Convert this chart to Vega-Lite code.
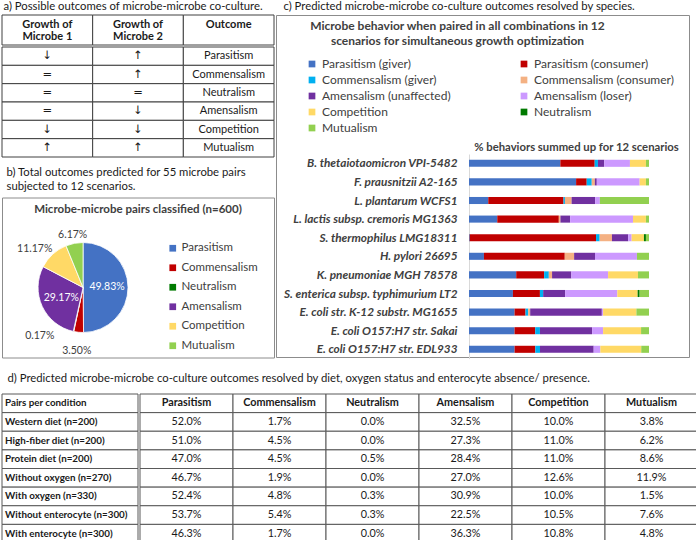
{
  "$schema": "https://vega.github.io/schema/vega-lite/v6.json",
  "padding": {"left": 1, "top": 1, "right": 0, "bottom": 0},
  "background": "white",
  "config": {
    "font": "Lato",
    "view": {"stroke": null},
    "title": {"fontSize": 11.3, "fontWeight": "normal", "anchor": "start", "color": "#1a1a1a", "offset": 2, "font": "Lato"},
    "text": {"font": "Lato"},
    "legend": {"labelFont": "Lato"}
  },
  "datasets": {
    "outcomes": [
      {"Growth of Microbe 1": "↓", "Growth of Microbe 2": "↑", "Outcome": "Parasitism"},
      {"Growth of Microbe 1": "=", "Growth of Microbe 2": "↑", "Outcome": "Commensalism"},
      {"Growth of Microbe 1": "=", "Growth of Microbe 2": "=", "Outcome": "Neutralism"},
      {"Growth of Microbe 1": "=", "Growth of Microbe 2": "↓", "Outcome": "Amensalism"},
      {"Growth of Microbe 1": "↓", "Growth of Microbe 2": "↓", "Outcome": "Competition"},
      {"Growth of Microbe 1": "↑", "Growth of Microbe 2": "↑", "Outcome": "Mutualism"}
    ],
    "pie": [
      {"outcome": "Parasitism", "share": 0.4983, "rank": 1},
      {"outcome": "Commensalism", "share": 0.035, "rank": 2},
      {"outcome": "Neutralism", "share": 0.0017, "rank": 3},
      {"outcome": "Amensalism", "share": 0.2917, "rank": 4},
      {"outcome": "Competition", "share": 0.1117, "rank": 5},
      {"outcome": "Mutualism", "share": 0.0617, "rank": 6}
    ],
    "behaviors": [
      {"behavior": "Parasitism (giver)", "rank": 1},
      {"behavior": "Parasitism (consumer)", "rank": 2},
      {"behavior": "Commensalism (giver)", "rank": 3},
      {"behavior": "Commensalism (consumer)", "rank": 4},
      {"behavior": "Amensalism (unaffected)", "rank": 5},
      {"behavior": "Amensalism (loser)", "rank": 6},
      {"behavior": "Competition", "rank": 7},
      {"behavior": "Neutralism", "rank": 8},
      {"behavior": "Mutualism", "rank": 9}
    ],
    "bars": [
      {"species": "B. thetaiotaomicron VPI-5482", "behavior": "Parasitism (giver)", "pct": 50.8},
      {"species": "B. thetaiotaomicron VPI-5482", "behavior": "Parasitism (consumer)", "pct": 19.1},
      {"species": "B. thetaiotaomicron VPI-5482", "behavior": "Commensalism (giver)", "pct": 1.8},
      {"species": "B. thetaiotaomicron VPI-5482", "behavior": "Amensalism (unaffected)", "pct": 3.5},
      {"species": "B. thetaiotaomicron VPI-5482", "behavior": "Amensalism (loser)", "pct": 14.3},
      {"species": "B. thetaiotaomicron VPI-5482", "behavior": "Competition", "pct": 8.9},
      {"species": "B. thetaiotaomicron VPI-5482", "behavior": "Mutualism", "pct": 1.7},
      {"species": "F. prausnitzii A2-165", "behavior": "Parasitism (giver)", "pct": 59.5},
      {"species": "F. prausnitzii A2-165", "behavior": "Parasitism (consumer)", "pct": 5.9},
      {"species": "F. prausnitzii A2-165", "behavior": "Commensalism (giver)", "pct": 2.8},
      {"species": "F. prausnitzii A2-165", "behavior": "Commensalism (consumer)", "pct": 1.7},
      {"species": "F. prausnitzii A2-165", "behavior": "Amensalism (unaffected)", "pct": 1.1},
      {"species": "F. prausnitzii A2-165", "behavior": "Amensalism (loser)", "pct": 23.8},
      {"species": "F. prausnitzii A2-165", "behavior": "Competition", "pct": 3.5},
      {"species": "F. prausnitzii A2-165", "behavior": "Mutualism", "pct": 1.7},
      {"species": "L. plantarum WCFS1", "behavior": "Parasitism (giver)", "pct": 10.7},
      {"species": "L. plantarum WCFS1", "behavior": "Parasitism (consumer)", "pct": 41.8},
      {"species": "L. plantarum WCFS1", "behavior": "Commensalism (giver)", "pct": 0.8},
      {"species": "L. plantarum WCFS1", "behavior": "Commensalism (consumer)", "pct": 3.7},
      {"species": "L. plantarum WCFS1", "behavior": "Amensalism (unaffected)", "pct": 13.1},
      {"species": "L. plantarum WCFS1", "behavior": "Amensalism (loser)", "pct": 2.6},
      {"species": "L. plantarum WCFS1", "behavior": "Mutualism", "pct": 27.3},
      {"species": "L. lactis subsp. cremoris MG1363", "behavior": "Parasitism (giver)", "pct": 15.7},
      {"species": "L. lactis subsp. cremoris MG1363", "behavior": "Parasitism (consumer)", "pct": 34.2},
      {"species": "L. lactis subsp. cremoris MG1363", "behavior": "Commensalism (consumer)", "pct": 0.9},
      {"species": "L. lactis subsp. cremoris MG1363", "behavior": "Amensalism (unaffected)", "pct": 5.4},
      {"species": "L. lactis subsp. cremoris MG1363", "behavior": "Amensalism (loser)", "pct": 34.9},
      {"species": "L. lactis subsp. cremoris MG1363", "behavior": "Competition", "pct": 7.2},
      {"species": "L. lactis subsp. cremoris MG1363", "behavior": "Mutualism", "pct": 1.7},
      {"species": "S. thermophilus LMG18311", "behavior": "Parasitism (giver)", "pct": 0.4},
      {"species": "S. thermophilus LMG18311", "behavior": "Parasitism (consumer)", "pct": 69.9},
      {"species": "S. thermophilus LMG18311", "behavior": "Commensalism (giver)", "pct": 2.0},
      {"species": "S. thermophilus LMG18311", "behavior": "Commensalism (consumer)", "pct": 6.8},
      {"species": "S. thermophilus LMG18311", "behavior": "Amensalism (unaffected)", "pct": 9.0},
      {"species": "S. thermophilus LMG18311", "behavior": "Amensalism (loser)", "pct": 1.9},
      {"species": "S. thermophilus LMG18311", "behavior": "Competition", "pct": 6.8},
      {"species": "S. thermophilus LMG18311", "behavior": "Neutralism", "pct": 1.1},
      {"species": "S. thermophilus LMG18311", "behavior": "Mutualism", "pct": 1.7},
      {"species": "H. pylori 26695", "behavior": "Parasitism (giver)", "pct": 8.3},
      {"species": "H. pylori 26695", "behavior": "Parasitism (consumer)", "pct": 44.9},
      {"species": "H. pylori 26695", "behavior": "Commensalism (consumer)", "pct": 5.2},
      {"species": "H. pylori 26695", "behavior": "Amensalism (unaffected)", "pct": 11.6},
      {"species": "H. pylori 26695", "behavior": "Amensalism (loser)", "pct": 23.3},
      {"species": "H. pylori 26695", "behavior": "Mutualism", "pct": 6.7},
      {"species": "K. pneumoniae MGH 78578", "behavior": "Parasitism (giver)", "pct": 26.2},
      {"species": "K. pneumoniae MGH 78578", "behavior": "Parasitism (consumer)", "pct": 15.5},
      {"species": "K. pneumoniae MGH 78578", "behavior": "Commensalism (giver)", "pct": 2.6},
      {"species": "K. pneumoniae MGH 78578", "behavior": "Commensalism (consumer)", "pct": 1.8},
      {"species": "K. pneumoniae MGH 78578", "behavior": "Amensalism (unaffected)", "pct": 10.7},
      {"species": "K. pneumoniae MGH 78578", "behavior": "Amensalism (loser)", "pct": 20.4},
      {"species": "K. pneumoniae MGH 78578", "behavior": "Competition", "pct": 16.6},
      {"species": "K. pneumoniae MGH 78578", "behavior": "Mutualism", "pct": 6.1},
      {"species": "S. enterica subsp. typhimurium LT2", "behavior": "Parasitism (giver)", "pct": 24.4},
      {"species": "S. enterica subsp. typhimurium LT2", "behavior": "Parasitism (consumer)", "pct": 15.0},
      {"species": "S. enterica subsp. typhimurium LT2", "behavior": "Commensalism (giver)", "pct": 1.8},
      {"species": "S. enterica subsp. typhimurium LT2", "behavior": "Amensalism (unaffected)", "pct": 12.2},
      {"species": "S. enterica subsp. typhimurium LT2", "behavior": "Amensalism (loser)", "pct": 29.0},
      {"species": "S. enterica subsp. typhimurium LT2", "behavior": "Competition", "pct": 11.3},
      {"species": "S. enterica subsp. typhimurium LT2", "behavior": "Neutralism", "pct": 1.1},
      {"species": "S. enterica subsp. typhimurium LT2", "behavior": "Mutualism", "pct": 5.2},
      {"species": "E. coli str. K-12 substr. MG1655", "behavior": "Parasitism (giver)", "pct": 25.3},
      {"species": "E. coli str. K-12 substr. MG1655", "behavior": "Parasitism (consumer)", "pct": 6.1},
      {"species": "E. coli str. K-12 substr. MG1655", "behavior": "Commensalism (giver)", "pct": 1.5},
      {"species": "E. coli str. K-12 substr. MG1655", "behavior": "Commensalism (consumer)", "pct": 1.1},
      {"species": "E. coli str. K-12 substr. MG1655", "behavior": "Amensalism (unaffected)", "pct": 39.8},
      {"species": "E. coli str. K-12 substr. MG1655", "behavior": "Amensalism (loser)", "pct": 0.7},
      {"species": "E. coli str. K-12 substr. MG1655", "behavior": "Competition", "pct": 18.5},
      {"species": "E. coli str. K-12 substr. MG1655", "behavior": "Mutualism", "pct": 7.0},
      {"species": "E. coli O157:H7 str. Sakai", "behavior": "Parasitism (giver)", "pct": 25.3},
      {"species": "E. coli O157:H7 str. Sakai", "behavior": "Parasitism (consumer)", "pct": 11.5},
      {"species": "E. coli O157:H7 str. Sakai", "behavior": "Commensalism (giver)", "pct": 2.6},
      {"species": "E. coli O157:H7 str. Sakai", "behavior": "Amensalism (unaffected)", "pct": 29.0},
      {"species": "E. coli O157:H7 str. Sakai", "behavior": "Amensalism (loser)", "pct": 6.1},
      {"species": "E. coli O157:H7 str. Sakai", "behavior": "Competition", "pct": 21.1},
      {"species": "E. coli O157:H7 str. Sakai", "behavior": "Mutualism", "pct": 4.4},
      {"species": "E. coli O157:H7 str. EDL933", "behavior": "Parasitism (giver)", "pct": 25.3},
      {"species": "E. coli O157:H7 str. EDL933", "behavior": "Parasitism (consumer)", "pct": 11.5},
      {"species": "E. coli O157:H7 str. EDL933", "behavior": "Commensalism (giver)", "pct": 2.6},
      {"species": "E. coli O157:H7 str. EDL933", "behavior": "Amensalism (unaffected)", "pct": 29.8},
      {"species": "E. coli O157:H7 str. EDL933", "behavior": "Amensalism (loser)", "pct": 3.7},
      {"species": "E. coli O157:H7 str. EDL933", "behavior": "Competition", "pct": 22.7},
      {"species": "E. coli O157:H7 str. EDL933", "behavior": "Mutualism", "pct": 4.3}
    ],
    "condRows": [
      {"cond": "Pairs per condition"},
      {"cond": "Western diet (n=200)"},
      {"cond": "High-fiber diet (n=200)"},
      {"cond": "Protein diet (n=200)"},
      {"cond": "Without oxygen (n=270)"},
      {"cond": "With oxygen (n=330)"},
      {"cond": "Without enterocyte (n=300)"},
      {"cond": "With enterocyte (n=300)"}
    ],
    "dHeader": [
      {"cond": "Pairs per condition", "outcome": "Parasitism"},
      {"cond": "Pairs per condition", "outcome": "Commensalism"},
      {"cond": "Pairs per condition", "outcome": "Neutralism"},
      {"cond": "Pairs per condition", "outcome": "Amensalism"},
      {"cond": "Pairs per condition", "outcome": "Competition"},
      {"cond": "Pairs per condition", "outcome": "Mutualism"}
    ],
    "dCells": [
      {"cond": "Western diet (n=200)", "Parasitism": 0.52, "Commensalism": 0.017, "Neutralism": 0, "Amensalism": 0.325, "Competition": 0.10, "Mutualism": 0.038},
      {"cond": "High-fiber diet (n=200)", "Parasitism": 0.51, "Commensalism": 0.045, "Neutralism": 0, "Amensalism": 0.273, "Competition": 0.11, "Mutualism": 0.062},
      {"cond": "Protein diet (n=200)", "Parasitism": 0.47, "Commensalism": 0.045, "Neutralism": 0.005, "Amensalism": 0.284, "Competition": 0.11, "Mutualism": 0.086},
      {"cond": "Without oxygen (n=270)", "Parasitism": 0.467, "Commensalism": 0.019, "Neutralism": 0, "Amensalism": 0.27, "Competition": 0.126, "Mutualism": 0.119},
      {"cond": "With oxygen (n=330)", "Parasitism": 0.524, "Commensalism": 0.048, "Neutralism": 0.003, "Amensalism": 0.309, "Competition": 0.10, "Mutualism": 0.015},
      {"cond": "Without enterocyte (n=300)", "Parasitism": 0.537, "Commensalism": 0.054, "Neutralism": 0.003, "Amensalism": 0.225, "Competition": 0.105, "Mutualism": 0.076},
      {"cond": "With enterocyte (n=300)", "Parasitism": 0.463, "Commensalism": 0.017, "Neutralism": 0, "Amensalism": 0.363, "Competition": 0.108, "Mutualism": 0.048}
    ]
  },
  "resolve": {"scale": {"color": "independent"}},
  "spacing": 13,
  "vconcat": [
    {
      "hconcat": [
        {
          "vconcat": [
            {
              "title": {"text": "a) Possible outcomes of microbe-microbe co-culture.", "dx": 2},
              "spacing": 0,
              "vconcat": [
                {
                  "width": 272, "height": 30,
                  "data": {"values": [
                    {"column": "Growth of Microbe 1", "row": "header", "label": "Growth of\nMicrobe 1"},
                    {"column": "Growth of Microbe 2", "row": "header", "label": "Growth of\nMicrobe 2"},
                    {"column": "Outcome", "row": "header", "label": "Outcome"}
                  ]},
                  "encoding": {
                    "x": {"field": "column", "type": "nominal", "sort": null, "scale": {"type": "band", "paddingInner": 0, "paddingOuter": 0}, "axis": null},
                    "y": {"field": "row", "type": "nominal", "scale": {"type": "band", "paddingInner": 0, "paddingOuter": 0}, "axis": null}
                  },
                  "layer": [
                    {"mark": {"type": "rect", "fill": "white", "stroke": "#404040", "strokeWidth": 1}},
                    {"mark": {"type": "text", "fontWeight": "bold", "fontSize": 11, "lineBreak": "\n", "lineHeight": 12.7, "baseline": "top", "dy": -11.5, "fill": "#1a1a1a"},
                     "encoding": {"text": {"field": "label"}}}
                  ]
                },
                {
                  "width": 272, "height": 110,
                  "data": {"name": "outcomes"},
                  "transform": [{"fold": ["Growth of Microbe 1", "Growth of Microbe 2", "Outcome"], "as": ["column", "cell"]}],
                  "encoding": {
                    "x": {"field": "column", "type": "nominal", "sort": null, "scale": {"type": "band", "paddingInner": 0, "paddingOuter": 0}, "axis": null},
                    "y": {"field": "Outcome", "type": "nominal", "sort": null, "scale": {"type": "band", "paddingInner": 0, "paddingOuter": 0}, "axis": null}
                  },
                  "layer": [
                    {"mark": {"type": "rect", "fill": "white", "stroke": "#404040", "strokeWidth": 1}},
                    {"transform": [{"filter": "datum.column !== 'Outcome'"}],
                     "mark": {"type": "text", "fontSize": 11.5, "font": "DejaVu Sans", "fill": "#1a1a1a"}, "encoding": {"text": {"field": "cell"}}},
                    {"transform": [{"filter": "datum.column === 'Outcome'"}],
                     "mark": {"type": "text", "fontSize": 11, "fill": "#1a1a1a"}, "encoding": {"text": {"field": "cell"}}}
                  ]
                }
              ]
            },
            {
              "title": {"text": ["b) Total outcomes predicted for 55 microbe pairs", "subjected to 12 scenarios."], "dx": 5, "lineHeight": 14, "offset": 5},
              "vconcat": [
                {
                  "width": 272, "height": 160,
                  "view": {"stroke": "#8c8c8c", "strokeWidth": 1},
                  "title": {"text": "Microbe-microbe pairs classified (n=600)", "anchor": "middle", "offset": -18, "fontWeight": "bold", "fontSize": 11.5, "color": "#404040"},
                  "data": {"name": "pie"},
                  "encoding": {
                    "x": {"datum": 0.298, "type": "quantitative", "scale": {"domain": [0, 1]}, "axis": null},
                    "y": {"datum": 0.4375, "type": "quantitative", "scale": {"domain": [0, 1]}, "axis": null},
                    "theta": {"field": "share", "type": "quantitative", "stack": true},
                    "order": {"field": "rank", "type": "quantitative", "sort": "ascending"},
                    "color": {
                      "field": "outcome", "type": "nominal",
                      "scale": {"domain": ["Parasitism", "Commensalism", "Neutralism", "Amensalism", "Competition", "Mutualism"],
                                "range": ["#4472C4", "#C00000", "#007A00", "#7030A0", "#FFD966", "#92D050"]},
                      "legend": {"orient": "none", "legendX": 165, "legendY": 45, "title": null, "symbolType": "square", "symbolSize": 45, "symbolStrokeWidth": 0, "labelFontSize": 11.5, "labelColor": "#404040", "rowPadding": 6.5, "labelOffset": 3}
                    }
                  },
                  "layer": [
                    {"mark": {"type": "arc", "outerRadius": 45, "stroke": "white", "strokeWidth": 0.8}},
                    {"mark": {"type": "text", "radius": 24, "fontSize": 10.5},
                     "encoding": {"fill": {"value": "white"}, "text": {"condition": {"test": "datum.share > 0.2", "field": "share", "type": "quantitative", "format": ".2%"}, "value": ""}}},
                    {"mark": {"type": "text", "radius": 60, "fontSize": 10.5, "dx": -8, "dy": 6},
                     "encoding": {"fill": {"value": "#404040"}, "text": {"condition": {"test": "datum.outcome === 'Competition'", "field": "share", "type": "quantitative", "format": ".2%"}, "value": ""}}},
                    {"mark": {"type": "text", "radius": 54, "fontSize": 10.5},
                     "encoding": {"fill": {"value": "#404040"}, "text": {"condition": {"test": "datum.outcome === 'Mutualism'", "field": "share", "type": "quantitative", "format": ".2%"}, "value": ""}}},
                    {"mark": {"type": "text", "radius": 64, "fontSize": 10.5},
                     "encoding": {"fill": {"value": "#404040"}, "text": {"condition": {"test": "datum.outcome === 'Commensalism'", "field": "share", "type": "quantitative", "format": ".2%"}, "value": ""}}},
                    {"mark": {"type": "text", "radius": 60, "fontSize": 10.5, "align": "right", "dx": -16, "dy": -10},
                     "encoding": {"fill": {"value": "#404040"}, "text": {"condition": {"test": "datum.outcome === 'Neutralism'", "field": "share", "type": "quantitative", "format": ".2%"}, "value": ""}}}
                  ]
                }
              ]
            }
          ],
          "spacing": 8.5,
          "resolve": {"scale": {"color": "independent"}}
        },
        {
          "title": {"text": "c) Predicted microbe-microbe co-culture outcomes resolved by species.", "dx": 8},
          "vconcat": [
            {
              "width": 413, "height": 342,
              "view": {"stroke": "#8c8c8c", "strokeWidth": 1},
              "title": {"text": ["Microbe behavior when paired in all combinations in 12", "scenarios for simultaneous growth optimization"], "anchor": "middle", "dx": -25, "offset": -32.5, "fontWeight": "bold", "fontSize": 12, "lineHeight": 15, "color": "#404040"},
              "data": {"name": "bars"},
              "transform": [{"lookup": "behavior", "from": {"data": {"name": "behaviors"}, "key": "behavior", "fields": ["rank"]}}],
              "mark": {"type": "bar"},
              "encoding": {
                "y": {
                  "field": "species", "type": "nominal", "sort": null,
                  "scale": {"range": [139, 343.6], "paddingInner": 0.62, "paddingOuter": 0.31},
                  "axis": {"title": null, "offset": -193, "ticks": false, "labelPadding": 12, "labelFontSize": 11.8, "labelFontWeight": "bold", "labelFontStyle": "italic", "labelColor": "#404040", "labelLimit": 300, "minExtent": 0, "maxExtent": 190, "domain": true, "domainColor": "#d9d9d9", "grid": false}
                },
                "x": {
                  "field": "pct", "type": "quantitative", "stack": "normalize",
                  "scale": {"range": [193, 373]},
                  "axis": {"orient": "top", "title": "% behaviors summed up for 12 scenarios", "labels": false, "ticks": false, "domain": false, "grid": false, "titleX": 300, "titleY": 132.5, "titleBaseline": "middle", "titleAlign": "center", "titleFontSize": 11.3, "titleFontWeight": "bold", "titleColor": "#404040"}
                },
                "order": {"field": "rank", "type": "quantitative", "sort": "ascending"},
                "color": {
                  "field": "behavior", "type": "nominal",
                  "scale": {"domain": ["Parasitism (giver)", "Parasitism (consumer)", "Commensalism (giver)", "Commensalism (consumer)", "Amensalism (unaffected)", "Amensalism (loser)", "Competition", "Neutralism", "Mutualism"],
                            "range": ["#4472C4", "#C00000", "#00B0F0", "#F4B183", "#7030A0", "#CC99FF", "#FFD966", "#007A00", "#92D050"]},
                  "legend": {"orient": "none", "legendX": 30, "legendY": 43, "direction": "horizontal", "columns": 2, "columnPadding": 67, "rowPadding": 4, "title": null, "symbolType": "square", "symbolSize": 45, "symbolStrokeWidth": 0, "labelFontSize": 12, "labelColor": "#404040", "labelLimit": 300, "labelOffset": 4}
                }
              }
            }
          ]
        }
      ],
      "spacing": 0,
      "resolve": {"scale": {"color": "independent"}}
    },
    {
      "title": {"text": "d) Predicted microbe-microbe co-culture outcomes resolved by diet, oxygen status and enterocyte absence/ presence.", "dx": 6, "offset": 9},
      "spacing": 0,
      "hconcat": [
        {
          "width": 136, "height": 149,
          "data": {"name": "condRows"},
          "encoding": {
            "y": {"field": "cond", "type": "nominal", "sort": null, "scale": {"type": "band", "paddingInner": 0, "paddingOuter": 0}, "axis": null},
            "x": {"datum": "label", "type": "nominal", "scale": {"type": "band", "paddingInner": 0, "paddingOuter": 0}, "axis": null}
          },
          "layer": [
            {"mark": {"type": "rect", "fill": "white", "stroke": "#595959", "strokeWidth": 1}},
            {"mark": {"type": "text", "align": "left", "dx": -65, "fontWeight": "bold", "fontSize": 9.8, "fill": "#1a1a1a"}, "encoding": {"text": {"field": "cond"}}}
          ]
        },
        {
          "width": 558, "height": 149,
          "encoding": {
            "x": {"field": "outcome", "type": "nominal", "scale": {"type": "band", "paddingInner": 0, "paddingOuter": 0, "domain": ["Parasitism", "Commensalism", "Neutralism", "Amensalism", "Competition", "Mutualism"]}, "axis": null},
            "y": {"field": "cond", "type": "nominal", "scale": {"type": "band", "paddingInner": 0, "paddingOuter": 0, "domain": ["Pairs per condition", "Western diet (n=200)", "High-fiber diet (n=200)", "Protein diet (n=200)", "Without oxygen (n=270)", "With oxygen (n=330)", "Without enterocyte (n=300)", "With enterocyte (n=300)"]}, "axis": null}
          },
          "layer": [
            {"data": {"name": "dHeader"}, "mark": {"type": "rect", "fill": "white", "stroke": "#595959", "strokeWidth": 1}},
            {"data": {"name": "dHeader"}, "mark": {"type": "text", "fontWeight": "bold", "fontSize": 10.8, "fill": "#1a1a1a"}, "encoding": {"text": {"field": "outcome"}}},
            {"data": {"name": "dCells"}, "transform": [{"fold": ["Parasitism", "Commensalism", "Neutralism", "Amensalism", "Competition", "Mutualism"], "as": ["outcome", "share"]}],
             "mark": {"type": "rect", "fill": "white", "stroke": "#595959", "strokeWidth": 1}},
            {"data": {"name": "dCells"}, "transform": [{"fold": ["Parasitism", "Commensalism", "Neutralism", "Amensalism", "Competition", "Mutualism"], "as": ["outcome", "share"]}],
             "mark": {"type": "text", "fontSize": 10.8, "fill": "#1a1a1a"}, "encoding": {"text": {"field": "share", "type": "quantitative", "format": ".1%"}}}
          ]
        }
      ]
    }
  ]
}
